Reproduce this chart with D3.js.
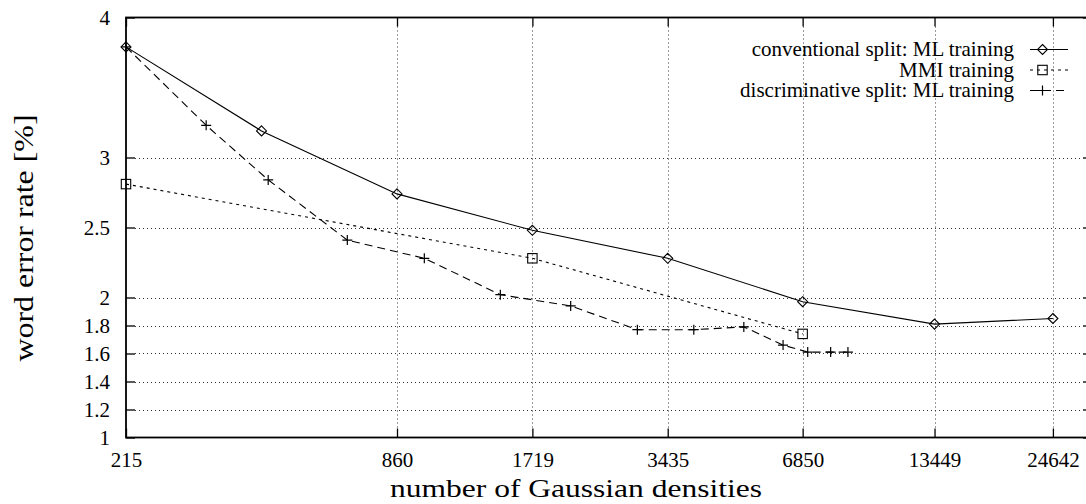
<!DOCTYPE html>
<html>
<head>
<meta charset="utf-8">
<script src="https://cdn.jsdelivr.net/npm/d3@7"></script>
<style>
  html, body { margin: 0; padding: 0; background: #fff; }
  svg { display: block; }
  text { font-family: "Liberation Serif", "Times New Roman", serif; fill: #000; }
</style>
</head>
<body>
<svg id="chart" width="1086" height="504"></svg>
<script>
// Axis ticks
const xTickValues = [215, 860, 1719, 3435, 6850, 13449, 24642];
const yTickValues = [1, 1.2, 1.4, 1.6, 1.8, 2, 2.5, 3, 4];

// Series: number of Gaussian densities vs. word error rate [%]
const convDensities = [215, 430, 860, 1719, 3435, 6850, 13449, 24642];
const convWer       = [3.79, 3.19, 2.74, 2.48, 2.28, 1.97, 1.81, 1.85];

const mmiDensities = [215, 1719, 6850];
const mmiWer       = [2.81, 2.28, 1.74];

const discDensities = [215, 324, 445, 667, 989, 1459, 2091, 2941, 3925, 5070, 6197, 7030, 7905, 8636];
const discWer       = [3.79, 3.23, 2.84, 2.41, 2.28, 2.02, 1.94, 1.77, 1.77, 1.79, 1.66, 1.61, 1.61, 1.61];

const seriesNames = ["conventional split: ML training", "MMI training", "discriminative split: ML training"];

const svg = d3.select("#chart");

const plotLeft = 126, plotTop = 17.5, plotBottom = 437.5, plotRight = 1092;
const pxPerOctave = 135.5;

const x = d3.scaleLog()
  .domain([215, 24642])
  .range([plotLeft, plotLeft + pxPerOctave * Math.log2(24642 / 215)]);
const y = d3.scaleLinear().domain([1, 4]).range([plotBottom, plotTop]);

// Grid
const grid = svg.append("g").attr("stroke", "#333").attr("stroke-width", 1)
  .attr("stroke-dasharray", "1,3").attr("fill", "none");
yTickValues.filter(v => v > 1 && v < 4).forEach(v => {
  const yy = Math.round(y(v)) + 0.5;
  grid.append("line").attr("x1", plotLeft + 9).attr("x2", plotRight - 9).attr("y1", yy).attr("y2", yy);
});
xTickValues.filter(v => v > 215).forEach(v => {
  const xx = Math.round(x(v)) + 0.5;
  grid.append("line").attr("x1", xx).attr("x2", xx).attr("y1", plotTop + 9).attr("y2", plotBottom - 9);
});

// Axes via d3 axis generators (inward ticks)
const xAxisBottom = d3.axisBottom(x).tickValues(xTickValues).tickFormat(d3.format("d"))
  .tickSizeInner(-9).tickSizeOuter(0).tickPadding(15);
const xAxisTop = d3.axisTop(x).tickValues(xTickValues).tickFormat("").tickSizeInner(-9).tickSizeOuter(0);
const yAxisLeft = d3.axisLeft(y).tickValues(yTickValues).tickFormat(d => String(d))
  .tickSizeInner(-9).tickSizeOuter(0).tickPadding(16);
const yAxisRight = d3.axisRight(y).tickValues(yTickValues).tickFormat("").tickSizeInner(-9).tickSizeOuter(0);

function styleAxis(g) {
  g.select(".domain").remove();
  g.selectAll(".tick line").attr("stroke", "#000").attr("stroke-width", 1.3);
  g.selectAll(".tick text").attr("font-family", "Liberation Serif, serif").attr("font-size", 21).attr("fill", "#000");
}

svg.append("g").attr("transform", `translate(0,${plotBottom})`).call(xAxisBottom).call(styleAxis);
svg.append("g").attr("transform", `translate(0,${plotTop})`).call(xAxisTop).call(styleAxis);
svg.append("g").attr("transform", `translate(${plotLeft},0)`).call(yAxisLeft).call(styleAxis)
  .selectAll(".tick text").attr("dy", "0.33em");
svg.append("g").attr("transform", `translate(${plotRight},0)`).call(yAxisRight).call(styleAxis);

// Frame
svg.append("rect").attr("x", plotLeft).attr("y", plotTop)
  .attr("width", plotRight - plotLeft).attr("height", plotBottom - plotTop)
  .attr("fill", "none").attr("stroke", "#000").attr("stroke-width", 1.8);

// Series definitions
const series = [
  { name: seriesNames[0], xs: convDensities, ys: convWer, dash: null, marker: "diamond" },
  { name: seriesNames[1], xs: mmiDensities, ys: mmiWer, dash: "3,4", marker: "square" },
  { name: seriesNames[2], xs: discDensities, ys: discWer, dash: "8,5", marker: "plus" }
];

function drawMarker(g, type, cx, cy) {
  const s = 5;
  if (type === "diamond") {
    g.append("path").attr("d", `M${cx},${cy - s}L${cx + s},${cy}L${cx},${cy + s}L${cx - s},${cy}Z`)
      .attr("fill", "none").attr("stroke", "#000").attr("stroke-width", 1.1);
  } else if (type === "square") {
    g.append("rect").attr("x", cx - 4.7).attr("y", cy - 4.7).attr("width", 9.4).attr("height", 9.4)
      .attr("fill", "none").attr("stroke", "#000").attr("stroke-width", 1.1);
  } else {
    g.append("path").attr("d", `M${cx - s},${cy}H${cx + s}M${cx},${cy - s}V${cy + s}`)
      .attr("fill", "none").attr("stroke", "#000").attr("stroke-width", 1.2);
  }
}

const line = d3.line().x(d => x(d[0])).y(d => y(d[1]));

series.forEach(s => {
  const pts = s.xs.map((v, i) => [v, s.ys[i]]);
  const g = svg.append("g");
  g.append("path").datum(pts).attr("d", line)
    .attr("fill", "none").attr("stroke", "#000").attr("stroke-width", 1.1)
    .attr("stroke-dasharray", s.dash);
  pts.forEach(p => drawMarker(g, s.marker, x(p[0]), y(p[1])));
});

// Legend
const legendRows = [49.5, 70, 90.5];
series.forEach((s, i) => {
  const ly = legendRows[i];
  const g = svg.append("g");
  g.append("text").attr("x", 1014).attr("y", ly).attr("dy", "0.33em")
    .attr("text-anchor", "end").attr("font-size", 21).text(s.name);
  g.append("line").attr("x1", 1030).attr("x2", 1068).attr("y1", ly).attr("y2", ly)
    .attr("stroke", "#000").attr("stroke-width", 1.1).attr("stroke-dasharray", s.dash);
  drawMarker(g, s.marker, 1042.5, ly);
});

// Axis titles
svg.append("text").attr("x", 576).attr("y", 497).attr("text-anchor", "middle")
  .attr("font-size", 26).attr("textLength", 372).attr("lengthAdjust", "spacingAndGlyphs")
  .text("number of Gaussian densities");
svg.append("text").attr("transform", "translate(33,238) rotate(-90)").attr("text-anchor", "middle")
  .attr("font-size", 27).attr("textLength", 247).attr("lengthAdjust", "spacingAndGlyphs")
  .text("word error rate [%]");
</script>
</body>
</html>
